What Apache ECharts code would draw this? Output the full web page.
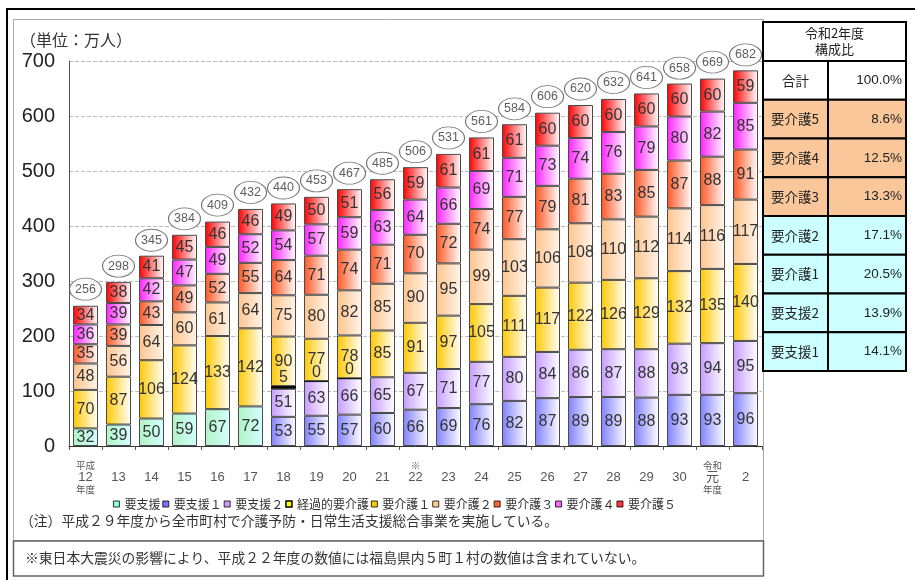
<!DOCTYPE html>
<html><head><meta charset="utf-8">
<script src="https://cdn.jsdelivr.net/npm/echarts@6/dist/echarts.min.js"></script>
<style>html,body{margin:0;padding:0;background:#fff}#c{width:915px;height:580px}</style>
</head><body><div id="c"></div>
<script>
// ---- data ----
const categories = ['平成12年度','13','14','15','16','17','18','19','20','21','※22','23','24','25','26','27','28','29','30','令和元年度','2'];
const seriesNames = ['要支援','要支援１','要支援２','経過的要介護','要介護１','要介護２','要介護３','要介護４','要介護５'];
const yoshien  = [32,39,50,59,67,72,null,null,null,null,null,null,null,null,null,null,null,null,null,null,null];
const yoshien1 = [null,null,null,null,null,null,53,55,57,60,66,69,76,82,87,89,89,88,93,93,96];
const yoshien2 = [null,null,null,null,null,null,51,63,66,65,67,71,77,80,84,86,87,88,93,94,95];
const keikateki = [null,null,null,null,null,null,5,0,0,null,null,null,null,null,null,null,null,null,null,null,null];
const yokaigo1 = [70,87,106,124,133,142,90,77,78,85,91,97,105,111,117,122,126,129,132,135,140];
const yokaigo2 = [48,56,64,60,61,64,75,80,82,85,90,95,99,103,106,108,110,112,114,116,117];
const yokaigo3 = [35,39,43,49,52,55,64,71,74,71,70,72,74,77,79,81,83,85,87,88,91];
const yokaigo4 = [36,39,42,47,49,52,54,57,59,63,64,66,69,71,73,74,76,79,80,82,85];
const yokaigo5 = [34,38,41,45,46,46,49,50,51,56,59,61,61,61,60,60,60,60,60,60,59];
const totals   = [256,298,345,384,409,432,440,453,467,485,506,531,561,584,606,620,632,641,658,669,682];
const yTicks = [0,100,200,300,400,500,600,700];
const tableHeader = '令和2年度\n構成比';
const tableLabels = ['合計','要介護5','要介護4','要介護3','要介護2','要介護1','要支援2','要支援1'];
const tableValues = ['100.0%','8.6%','12.5%','13.3%','17.1%','20.5%','13.9%','14.1%'];
const unitText = '（単位：万人）';
const note1 = '（注）平成２９年度から全市町村で介護予防・日常生活支援総合事業を実施している。';
const note2 = '※東日本大震災の影響により、平成２２年度の数値には福島県内５町１村の数値は含まれていない。';

// ---- styles ----
const FONT = '"Liberation Sans","Noto Sans CJK JP",sans-serif';
const JFONT = '"Noto Sans CJK JP",sans-serif';
const seriesData = [yoshien,yoshien1,yoshien2,keikateki,yokaigo1,yokaigo2,yokaigo3,yokaigo4,yokaigo5];
const gradFrom = ['#b0f4c4','#8080ff','#c59cff','#5c5c00','#ffc800','#ffc48c','#ff5522','#ff22ff','#ff0000'];
const gradTo   = ['#d4ffff','#ffffff','#ffffff','#5c5c00','#ffffff','#fff4ea','#ffffff','#ffffff','#ffffff'];
const legendColor = ['#99ffcc','#7777ff','#cc99ff','#ffff00','#ffcc00','#ffcc99','#ff6633','#ff66ff','#ff3333'];

function grad(a,b){return {type:'linear',x:0,y:0,x2:1,y2:0,colorStops:[{offset:0,color:a},{offset:1,color:b}]};}

const series = seriesNames.map((name,i)=>({
  name, type:'bar', stack:'total', barWidth:25, data: seriesData[i],
  itemStyle:{color:grad(gradFrom[i],gradTo[i]), borderColor: i===3?'#000':'#4a4a4a', borderWidth: i===3?1.5:1},
  label:{show:true, position: i===3?'top':'inside', distance: i===3?0:5, fontFamily:FONT, fontSize:16, color:'#333',
         formatter:p=> (p.value==null?'':String(p.value))},
  emphasis:{disabled:true}, animation:false
}));
series.push({
  name:'合計', type:'scatter', data: totals, z:10,
  symbol:'path://M0,50 A50,50 0 1,1 100,50 A50,50 0 1,1 0,50 Z',
  symbolSize:[32,22], symbolOffset:[0,-16],
  itemStyle:{color:'#fff', borderColor:'#555', borderWidth:1},
  label:{show:true, position:'inside', fontFamily:FONT, fontSize:12.5, color:'#333', formatter:p=>String(p.value)},
  emphasis:{disabled:true}, animation:false
});

function catFmt(v){
  const m = v.match(/^(平成|令和|※)?(\d+|元)(年度)?$/);
  if(!m) return v;
  if(!m[1]) return '{n|'+m[2]+'}';
  return '{s|'+m[1]+'}\n{n|'+m[2]+'}\n{s|'+(m[3]||' ')+'}';
}

// ---- frames, notes and table ----
const graphic = [];
graphic.push({type:'line', shape:{x1:6,y1:9,x2:915,y2:9}, style:{stroke:'#000',lineWidth:2}, silent:true});
graphic.push({type:'line', shape:{x1:7,y1:8,x2:7,y2:580}, style:{stroke:'#000',lineWidth:2}, silent:true});
graphic.push({type:'rect', shape:{x:13.5,y:19.5,width:750,height:521}, style:{fill:null,stroke:'#aaa',lineWidth:1}, silent:true, z:-1});
graphic.push({type:'rect', shape:{x:13.5,y:541,width:750,height:35}, style:{fill:null,stroke:'#666',lineWidth:1.5}, silent:true});
graphic.push({type:'text', left:20, top:32, style:{text:unitText, font:'16px '+JFONT, fill:'#333'}});
graphic.push({type:'text', left:20, top:514, style:{text:note1, font:'13.8px '+JFONT, fill:'#333'}});
graphic.push({type:'text', left:25, top:551, style:{text:note2, font:'13.8px '+JFONT, fill:'#333'}});

const tx0=763, tx1=828, tx2=906, ty0=22, hh=39, rh=38.75;
graphic.push({type:'rect', shape:{x:tx0,y:ty0,width:tx2-tx0,height:hh}, style:{fill:'#fff',stroke:'#000',lineWidth:2}});
graphic.push({type:'text', x:(tx0+tx2)/2, y:ty0+hh/2, style:{text:tableHeader, font:'13px '+JFONT, fill:'#222', align:'center', verticalAlign:'middle', lineHeight:16}});
tableLabels.forEach((lab,i)=>{
  const y = ty0+hh+i*rh;
  const fill = i===0?'#ffffff':(i<=3?'#fac79a':'#ccffff');
  graphic.push({type:'rect', shape:{x:tx0,y,width:tx1-tx0,height:rh}, style:{fill,stroke:'#000',lineWidth:2}});
  graphic.push({type:'rect', shape:{x:tx1,y,width:tx2-tx1,height:rh}, style:{fill,stroke:'#000',lineWidth:2}});
  graphic.push({type:'text', x: i===0?(tx0+tx1)/2:tx0+8, y:y+rh/2, style:{text:lab, font:'13.5px '+JFONT, fill:'#222', align:i===0?'center':'left', verticalAlign:'middle'}});
  graphic.push({type:'text', x:tx2-4, y:y+rh/2, style:{text:tableValues[i], font:'13.5px '+FONT, fill:'#222', align:'right', verticalAlign:'middle'}});
});

const chart = echarts.init(document.getElementById('c'), null, {renderer:'canvas'});
chart.setOption({
  animation:false,
  backgroundColor:'#fff',
  grid:{left:69, right:153, top:61, bottom:134, containLabel:false},
  legend:{
    left:108, top:493, itemWidth:6, itemHeight:6, itemGap:2, icon:'rect',
    textStyle:{fontFamily:JFONT, fontSize:12, color:'#333'},
    data: seriesNames.map((n,i)=>({name:n, icon:'rect', itemStyle:{color:legendColor[i], borderColor:'#000', borderWidth: i===3?1.5:0.8}})),
    selectedMode:false
  },
  xAxis:{
    type:'category', data:categories,
    axisLine:{lineStyle:{color:'#333',width:1}},
    axisTick:{show:true, length:4, lineStyle:{color:'#555'}},
    axisLabel:{formatter:catFmt, margin:31, verticalAlign:'middle', interval:0,
      rich:{ s:{fontFamily:JFONT,fontSize:9.5,color:'#555',lineHeight:12,align:'center'},
             n:{fontFamily:FONT,fontSize:13,color:'#555',lineHeight:12,align:'center'} }}
  },
  yAxis:{
    type:'value', min:yTicks[0], max:yTicks[yTicks.length-1], interval:100,
    axisLine:{show:true, lineStyle:{color:'#555'}},
    axisTick:{show:false},
    axisLabel:{fontFamily:FONT, fontSize:20, color:'#222', margin:14},
    splitLine:{show:true, lineStyle:{color:'#bbb', type:'dashed'}}
  },
  series,
  graphic
});
</script></body></html>
